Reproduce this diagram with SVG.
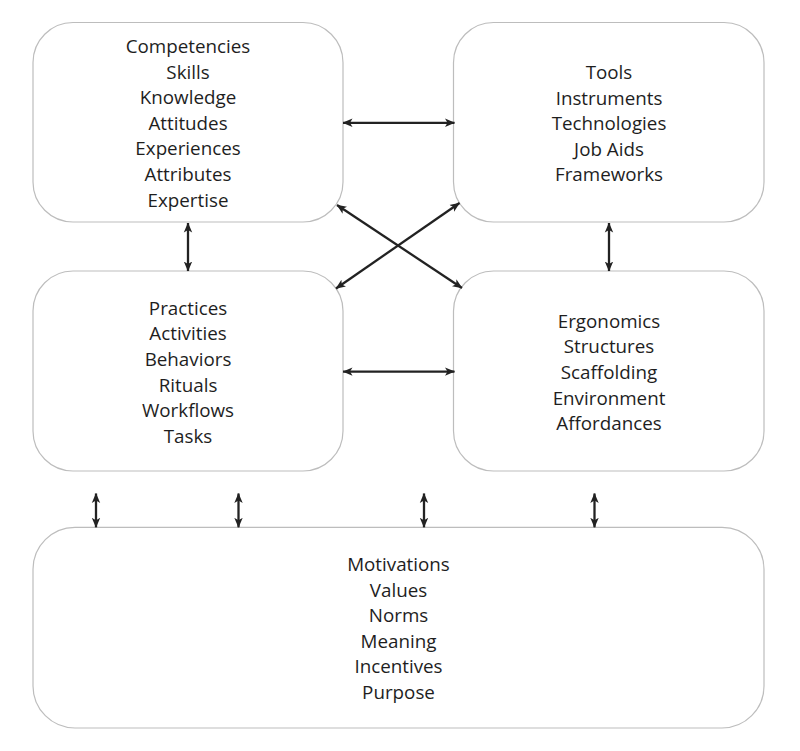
<svg xmlns="http://www.w3.org/2000/svg" width="800" height="751" viewBox="0 0 800 751">
  <defs>
    <style>
      .box { fill: #ffffff; stroke: #bdbdbd; stroke-width: 1.2; }
      .lbl { font-family: "Open Sans", "Noto Sans", "Liberation Sans", sans-serif; font-size: 18.8px; fill: #1e1e1e; text-anchor: middle; }
      .conn { stroke: #222222; stroke-width: 2.3; fill: none; marker-start: url(#ah); marker-end: url(#ah); }
    </style>
    <marker id="ah" viewBox="0 0 10 10" refX="9.5" refY="5" markerWidth="10" markerHeight="10" markerUnits="userSpaceOnUse" orient="auto-start-reverse">
      <path d="M0,0.8 L10,5 L0,9.2 L2.5,5 Z" fill="#222222"/>
    </marker>
  </defs>
  <rect width="800" height="751" fill="#ffffff"/>

  <g id="node-competencies">
    <rect class="box" x="33" y="22.5" width="310" height="199.5" rx="40" ry="40"/>
    <text class="lbl" x="188" y="53">Competencies</text>
    <text class="lbl" x="188" y="78.6">Skills</text>
    <text class="lbl" x="188" y="104.2">Knowledge</text>
    <text class="lbl" x="188" y="129.8">Attitudes</text>
    <text class="lbl" x="188" y="155.4">Experiences</text>
    <text class="lbl" x="188" y="181">Attributes</text>
    <text class="lbl" x="188" y="206.6">Expertise</text>
  </g>

  <g id="node-tools">
    <rect class="box" x="453.5" y="22.5" width="310.5" height="199.5" rx="40" ry="40"/>
    <text class="lbl" x="609" y="79">Tools</text>
    <text class="lbl" x="609" y="104.6">Instruments</text>
    <text class="lbl" x="609" y="130.2">Technologies</text>
    <text class="lbl" x="609" y="155.8">Job Aids</text>
    <text class="lbl" x="609" y="181.4">Frameworks</text>
  </g>

  <g id="node-practices">
    <rect class="box" x="33" y="271" width="310" height="200" rx="40" ry="40"/>
    <text class="lbl" x="188" y="314.8">Practices</text>
    <text class="lbl" x="188" y="340.4">Activities</text>
    <text class="lbl" x="188" y="366">Behaviors</text>
    <text class="lbl" x="188" y="391.6">Rituals</text>
    <text class="lbl" x="188" y="417.2">Workflows</text>
    <text class="lbl" x="188" y="442.8">Tasks</text>
  </g>

  <g id="node-ergonomics">
    <rect class="box" x="453.5" y="271" width="310.5" height="200" rx="40" ry="40"/>
    <text class="lbl" x="609" y="327.8">Ergonomics</text>
    <text class="lbl" x="609" y="353.4">Structures</text>
    <text class="lbl" x="609" y="379">Scaffolding</text>
    <text class="lbl" x="609" y="404.6">Environment</text>
    <text class="lbl" x="609" y="430.2">Affordances</text>
  </g>

  <g id="node-motivations">
    <rect class="box" x="33" y="527.3" width="731" height="200.7" rx="42" ry="42"/>
    <text class="lbl" x="398.5" y="571">Motivations</text>
    <text class="lbl" x="398.5" y="596.6">Values</text>
    <text class="lbl" x="398.5" y="622.2">Norms</text>
    <text class="lbl" x="398.5" y="647.8">Meaning</text>
    <text class="lbl" x="398.5" y="673.4">Incentives</text>
    <text class="lbl" x="398.5" y="699">Purpose</text>
  </g>

  <g id="connectors">
    <line class="conn" x1="343" y1="122.8" x2="454.5" y2="122.8"/>
    <line class="conn" x1="343" y1="371.6" x2="454.5" y2="371.6"/>
    <line class="conn" x1="188" y1="223" x2="188" y2="271"/>
    <line class="conn" x1="609" y1="223" x2="609" y2="271"/>
    <line class="conn" x1="337" y1="205" x2="462" y2="288"/>
    <line class="conn" x1="459.5" y1="203" x2="336" y2="288.5"/>
    <line class="conn" x1="96" y1="493.5" x2="96" y2="527.3"/>
    <line class="conn" x1="238.5" y1="493.5" x2="238.5" y2="527.3"/>
    <line class="conn" x1="424" y1="493.5" x2="424" y2="527.3"/>
    <line class="conn" x1="594.5" y1="493.5" x2="594.5" y2="527.3"/>
  </g>
</svg>
